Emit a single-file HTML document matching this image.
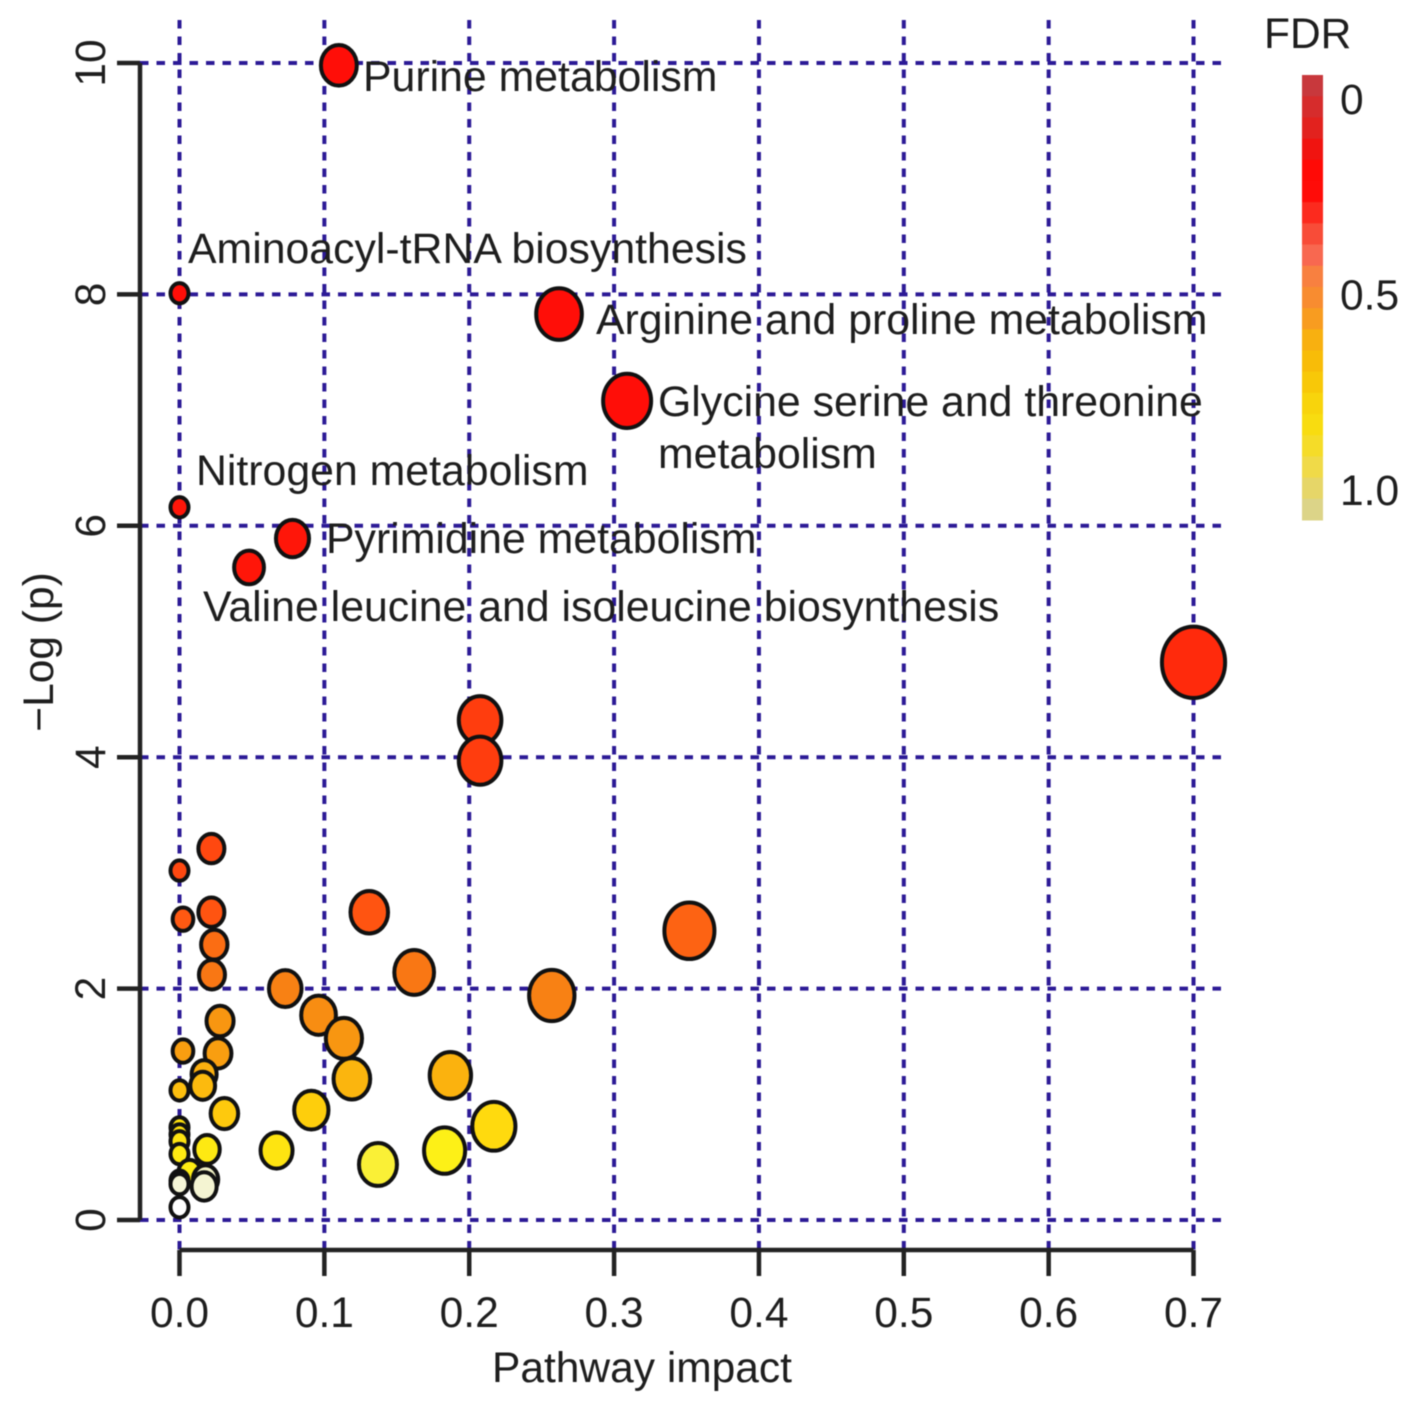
<!DOCTYPE html>
<html>
<head>
<meta charset="utf-8">
<style>
html,body{margin:0;padding:0;background:#fff;width:1417px;height:1410px;overflow:hidden}
svg{display:block;font-family:"Liberation Sans",Arial,sans-serif;filter:blur(0.6px)}
text{fill:#1e1e1e}
</style>
</head>
<body>
<svg id="chart" xmlns="http://www.w3.org/2000/svg" width="1417" height="1410" viewBox="0 0 1417 1410">
<g id="grid"></g>
<g id="axes"></g>
<g id="points"></g>
<g id="labels" font-size="42.8">
<text x="363" y="91">Purine metabolism</text>
<text x="188" y="263">Aminoacyl-tRNA biosynthesis</text>
<text x="596" y="334">Arginine and proline metabolism</text>
<text x="658" y="416">Glycine serine and threonine</text>
<text x="658" y="468">metabolism</text>
<text x="196" y="485">Nitrogen metabolism</text>
<text x="326" y="553">Pyrimidine metabolism</text>
<text x="203" y="621">Valine leucine and isoleucine biosynthesis</text>
</g>
<text x="642" y="1382" font-size="42.5" text-anchor="middle">Pathway impact</text>
<text transform="translate(53 652) rotate(-90)" font-size="42.5" text-anchor="middle">−Log (p)</text>
<g id="legend">
<text x="1264" y="48" font-size="42.5">FDR</text>
</g>
</svg>
<script>
// Chart data
const xTicks = [0, 0.1, 0.2, 0.3, 0.4, 0.5, 0.6, 0.7];
const yTicks = [0, 2, 4, 6, 8, 10];
const impact = [0.110,0,0.262,0.309,0,0.078,0.048,0.700,0.2075,0.2075,0.022,0,0.0024,0.022,0.024,0.0224,0.131,0.352,0.162,0.073,0.257,0.096,0.1135,0.028,0.0024,0.0266,0.119,0.187,0.017,0.016,0,0.031,0.091,0.217,0,0,0,0,0.019,0.067,0.183,0.137,0.007,0.018,0,0,0.017,0];
const logP = [9.98,8.01,7.83,7.08,6.16,5.89,5.64,4.82,4.32,3.97,3.21,3.02,2.60,2.66,2.38,2.12,2.66,2.50,2.14,2.00,1.94,1.77,1.57,1.72,1.46,1.44,1.22,1.25,1.26,1.16,1.12,0.92,0.95,0.81,0.80,0.74,0.68,0.57,0.61,0.60,0.60,0.48,0.41,0.35,0.34,0.31,0.29,0.11];
const fdr = [0.0,0.0,0.0,0.0,0.02,0.02,0.02,0.07,0.12,0.12,0.16,0.16,0.22,0.2,0.28,0.31,0.2,0.25,0.31,0.34,0.34,0.39,0.43,0.43,0.46,0.46,0.54,0.53,0.52,0.56,0.58,0.62,0.64,0.69,0.71,0.71,0.73,0.75,0.75,0.73,0.78,0.8,0.76,0.9,0.92,0.93,0.92,1.0];
const legendTickValues = [0, 0.5, 1.0];
const legendTickLabels = ["0", "0.5", "1.0"];
const legendColors = ["#c8383c","#d62c2c","#e2221e","#f01410","#ff0a06","#ff0c08","#fc2a1e","#f84c38","#f86850","#f88040","#f88c30","#f89c20","#f8b010","#f8bc08","#f8c808","#f8d40c","#f8dc10","#f5dc28","#f0da48","#e6d668","#dcd488"];
const pointRamp = ["#ff0e08","#ff3a0e","#ff5a12","#f87f14","#f89a10","#fcb90e","#ffd40c","#fdf014","#f0f0c0","#ffffff"];

// Scales
const X = v => 179.5 + v * 1448.6;
const Y = v => 1220 - v * 115.7;
const radius = v => 9 + 27 * Math.sqrt(v);
const NS = "http://www.w3.org/2000/svg";
function mk(parent, tag, attrs, text) {
  const el = document.createElementNS(NS, tag);
  for (const k in attrs) el.setAttribute(k, attrs[k]);
  if (text !== undefined) el.textContent = text;
  parent.appendChild(el);
  return el;
}
function rampColor(f) {
  const t = Math.max(0, Math.min(1, f)) * (pointRamp.length - 1);
  const i = Math.min(Math.floor(t), pointRamp.length - 2);
  const a = parseInt(pointRamp[i].slice(1), 16), b = parseInt(pointRamp[i + 1].slice(1), 16), u = t - i;
  const c = s => Math.round(((a >> s) & 255) * (1 - u) + ((b >> s) & 255) * u);
  return "rgb(" + c(16) + "," + c(8) + "," + c(0) + ")";
}
const grid = document.getElementById("grid"), axes = document.getElementById("axes");
const points = document.getElementById("points"), legend = document.getElementById("legend");
const gridStyle = {stroke: "#2c1a96", "stroke-width": 4, "stroke-dasharray": "8.5 8", fill: "none"};

xTicks.forEach(t => {
  const gl = mk(grid, "line", Object.assign({x1: X(t), x2: X(t), y1: 20, y2: 1250}, gridStyle));
  
  
  const tick = mk(axes, "line", {x1: X(t), x2: X(t), y1: 1250, y2: 1276, stroke: "#222", "stroke-width": 4.5});
  
  
  const lab = mk(axes, "text", {x: X(t), y: 1327, "font-size": 42.5, "text-anchor": "middle"}, t.toFixed(1));
  
  
});
yTicks.forEach(t => {
  const gl = mk(grid, "line", Object.assign({x1: 140, x2: 1229, y1: Y(t), y2: Y(t)}, gridStyle));
  
  
  const tick = mk(axes, "line", {x1: 117, x2: 140, y1: Y(t), y2: Y(t), stroke: "#222", "stroke-width": 4.5});
  
  
  const lab = mk(axes, "text", {transform: "translate(105 " + Y(t) + ") rotate(-90)", "font-size": 42.5, "text-anchor": "middle"}, String(t));
  
  
});
const xLine = mk(axes, "line", {x1: X(xTicks[0]), x2: X(xTicks[xTicks.length - 1]), y1: 1250, y2: 1250, stroke: "#222", "stroke-width": 4.5});


const yLine = mk(axes, "line", {x1: 140, x2: 140, y1: Y(yTicks[0]), y2: Y(yTicks[yTicks.length - 1]), stroke: "#222", "stroke-width": 4.5});



impact.forEach((v, i) => {
  const r = radius(v);
  const pt = mk(points, "ellipse", {cx: X(v), cy: Y(logP[i]), rx: r, ry: r * 1.13, fill: rampColor(fdr[i]), stroke: "#111", "stroke-width": 4});
  
  
});

const barTop = 75, barBottom = 520, barH = (barBottom - barTop) / legendColors.length;
legendColors.forEach((c, i) => {
  const seg = mk(legend, "rect", {x: 1302, y: barTop + i * barH, width: 21, height: barH + 0.5, fill: c});
  
  
});
const L = v => 99 + v * 391;
legendTickValues.forEach((v, i) => {
  const lab = mk(legend, "text", {x: 1340, y: L(v) + 15, "font-size": 42.5}, legendTickLabels[i]);
  
  
});
</script>
</body>
</html>
